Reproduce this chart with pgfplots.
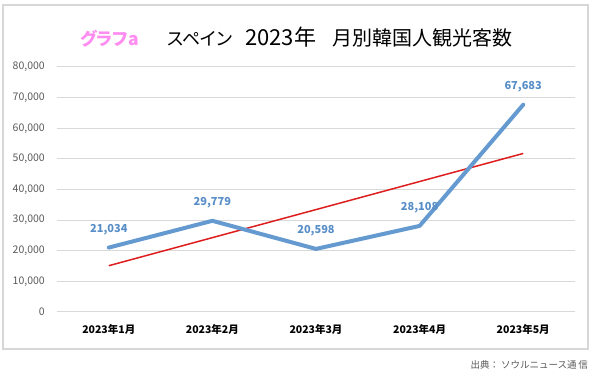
\documentclass[border=0pt]{standalone}
\usepackage{pgfplots}
\pgfplotsset{compat=1.18}
\usepackage{fontspec}
\setmainfont{Noto Sans CJK JP}
\newfontfamily\cjkp[RawFeature=+palt]{Noto Sans CJK JP}
\definecolor{blueline}{RGB}{100,154,208}
\definecolor{bluetext}{RGB}{88,142,200}
\definecolor{redline}{RGB}{222,30,30}
\definecolor{gridc}{RGB}{217,217,217}
\definecolor{tickc}{RGB}{89,89,89}
\definecolor{pinkc}{RGB}{255,140,240}
\definecolor{framec}{RGB}{215,215,215}
\begin{document}
\begin{tikzpicture}[x=1pt,y=1pt]
\useasboundingbox (0,0) rectangle (592,377);
\draw[framec, line width=1.3pt] (3,28) rectangle (588,372);
\begin{axis}[
  at={(57pt,65pt)}, anchor=south west,
  scale only axis, width=518pt, height=245pt,
  xmin=0.5, xmax=5.5, ymin=0, ymax=80000,
  axis line style={draw=none},
  major tick length=0pt,
  xtick={1,2,3,4,5},
  xticklabels={2023年1月,2023年2月,2023年3月,2023年4月,2023年5月},
  ytick={0,10000,20000,30000,40000,50000,60000,70000,80000},
  scaled y ticks=false,
  yticklabel={\pgfmathprintnumber[1000 sep={,},fixed,precision=0]{\tick}},
  /pgf/number format/assume math mode=true,
  ymajorgrids, grid style={gridc, line width=1pt},
  yticklabel style={font=\fontsize{10.5}{12}\selectfont, text=tickc, inner sep=0pt, anchor=east, xshift=-12pt},
  xticklabel style={font=\fontsize{10.5}{12}\selectfont\bfseries, text=black, inner sep=0pt, anchor=north, yshift=-12pt},
  clip=false,
]
\addplot[redline, line width=1.5pt] coordinates {(1,15115) (5,51766)};
\addplot[blueline, line width=4pt, line join=round, line cap=round,
  nodes near coords, point meta=explicit symbolic,
  every node near coord/.style={font=\fontsize{11}{13}\selectfont\bfseries, text=bluetext, inner sep=0pt, anchor=south, yshift=10.5pt}]
  coordinates {(1,21034) [21,034] (2,29779) [29,779] (3,20598) [20,598] (4,28108) [28,108] (5,67683) [67,683]};
\end{axis}
\node[anchor=base west, inner sep=0pt, text=pinkc, font=\fontsize{17.5}{20}\selectfont\bfseries\cjkp] at (80,331) {グラフa};
\node[anchor=base west, inner sep=0pt, font=\fontsize{18}{22}\selectfont\cjkp] at (167,331) {スペイン};
\node[anchor=base west, inner sep=0pt, font=\fontsize{22}{24}\selectfont] at (245,331) {2023年};
\node[anchor=base west, inner sep=0pt, font=\fontsize{20}{22}\selectfont] at (332,331) {月別韓国人観光客数};
\node[anchor=base east, inner sep=0pt, text=tickc, font=\fontsize{9.5}{11}\selectfont] at (588,8) {出典： ソウルニュース通\,信};
\end{tikzpicture}
\end{document}
